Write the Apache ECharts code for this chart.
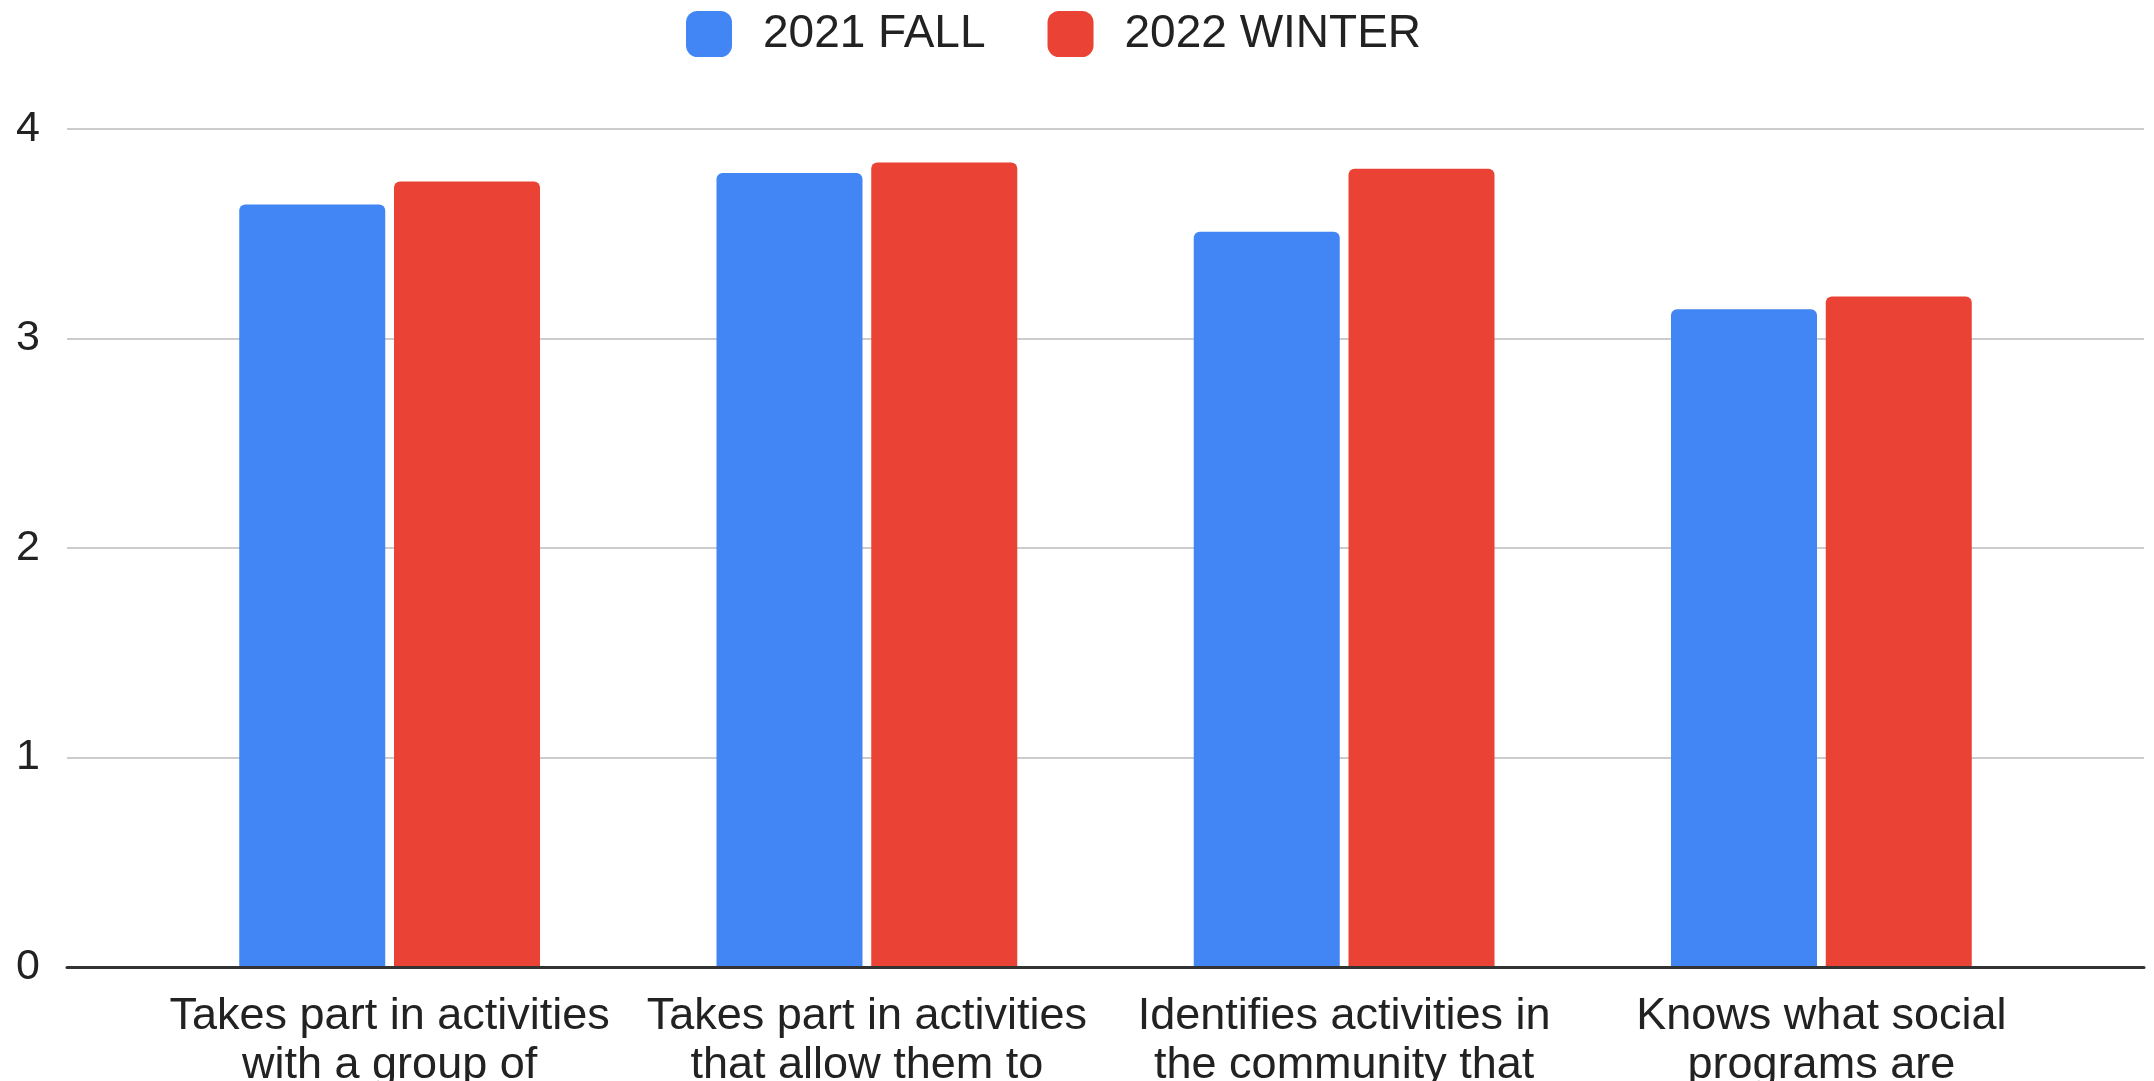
<!DOCTYPE html>
<html>
<head>
<meta charset="utf-8">
<script src="https://cdn.jsdelivr.net/npm/echarts@6/dist/echarts.min.js"></script>
<style>
html,body{margin:0;padding:0;background:#fff;}
#chart{width:2154px;height:1081px;}
</style>
</head>
<body>
<div id="chart"></div>
<script>
const categories = [
  "Takes part in activities\nwith a group of",
  "Takes part in activities\nthat allow them to",
  "Identifies activities in\nthe community that",
  "Knows what social\nprograms are"
];
const seriesNames = ["2021 FALL", "2022 WINTER"];
const fall2021 = [3.64, 3.79, 3.51, 3.14];
const winter2022 = [3.75, 3.84, 3.81, 3.20];
const yTicks = [0, 1, 2, 3, 4];

const FONT = '"Liberation Sans", Arial, sans-serif';
const chart = echarts.init(document.getElementById('chart'), null, {renderer: 'canvas'});
chart.setOption({
  animation: false,
  backgroundColor: '#ffffff',
  legend: {
    left: 681, top: 6,
    itemWidth: 46, itemHeight: 46, itemGap: 62,
    icon: 'roundRect',
    textStyle: {fontFamily: FONT, fontSize: 46, color: '#222', padding: [0, 0, 0, 26]},
    data: seriesNames
  },
  grid: [
    {left: 67, right: 10, top: 129, bottom: 114, containLabel: false, outerBoundsMode: 'none'},
    {left: 151, right: 94, top: 129, bottom: 114, containLabel: false, outerBoundsMode: 'none'}
  ],
  xAxis: [
    {gridIndex: 0, type: 'value', min: 0, max: 1, z: 10,
     axisLine: {show: true, onZero: true, lineStyle: {color: '#333', width: 3}},
     axisTick: {show: false}, axisLabel: {show: false}, splitLine: {show: false}},
    {gridIndex: 1, type: 'category', data: categories,
     axisLine: {show: false}, axisTick: {show: false}, splitLine: {show: false},
     axisLabel: {interval: 0, margin: 25, fontFamily: FONT, fontSize: 45, lineHeight: 49, color: '#222', align: 'center'}}
  ],
  yAxis: [
    {gridIndex: 0, type: 'value', min: yTicks[0], max: yTicks[yTicks.length - 1], interval: 1,
     axisLine: {show: false}, axisTick: {show: false},
     axisLabel: {margin: 27, fontFamily: FONT, fontSize: 43, color: '#222'},
     splitLine: {show: true, lineStyle: {color: '#cccccc', width: 2}}},
    {gridIndex: 1, type: 'value', min: yTicks[0], max: yTicks[yTicks.length - 1], interval: 1,
     show: false, splitLine: {show: false}}
  ],
  series: [
    {name: seriesNames[0], type: 'bar', xAxisIndex: 1, yAxisIndex: 1, data: fall2021,
     barWidth: 146, barGap: '6%', itemStyle: {color: '#4285F4', borderRadius: [6, 6, 0, 0]}},
    {name: seriesNames[1], type: 'bar', xAxisIndex: 1, yAxisIndex: 1, data: winter2022,
     barWidth: 146, barGap: '6%', itemStyle: {color: '#EA4335', borderRadius: [6, 6, 0, 0]}}
  ]
});
</script>
</body>
</html>
